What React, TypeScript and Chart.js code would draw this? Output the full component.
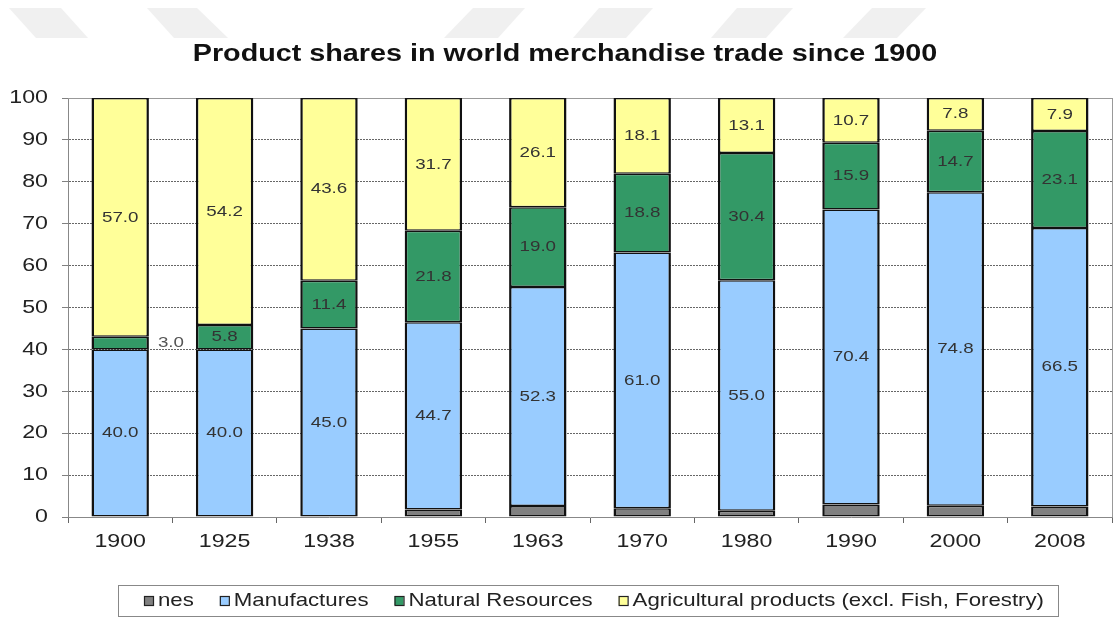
import React, { useEffect, useRef } from "react";
import { Chart, registerables } from "chart.js";
Chart.register(...registerables);

const years = ["1900", "1925", "1938", "1955", "1963", "1970", "1980", "1990", "2000", "2008"];
const nes = [null, null, null, 1.8, 2.6, 2.1, 1.5, 3.0, 2.7, 2.5];
const manufactures = [40.0, 40.0, 45.0, 44.7, 52.3, 61.0, 55.0, 70.4, 74.8, 66.5];
const naturalResources = [3.0, 5.8, 11.4, 21.8, 19.0, 18.8, 30.4, 15.9, 14.7, 23.1];
const agricultural = [57.0, 54.2, 43.6, 31.7, 26.1, 18.1, 13.1, 10.7, 7.8, 7.9];
const seriesNames = ["nes", "Manufactures", "Natural Resources", "Agricultural products (excl. Fish, Forestry)"];
const seriesColors = ["#808080", "#99CCFF", "#339966", "#FFFF99"];
const seriesData = [nes, manufactures, naturalResources, agricultural];
const labelledSeries = [1, 2, 3];
const titleText = "Product shares in world merchandise trade since 1900";

const FONT = "Arial, 'Liberation Sans', sans-serif";
const SX = 1.22;

function stretchedText(ctx: CanvasRenderingContext2D, text: string, x: number, y: number, align: "left" | "center" | "right", font: string, color: string, sx = SX) {
  ctx.save();
  ctx.font = font;
  ctx.fillStyle = color;
  ctx.textBaseline = "middle";
  const w = ctx.measureText(text).width * sx;
  let left = x;
  if (align === "center") left = x - w / 2;
  else if (align === "right") left = x - w;
  ctx.translate(left, y);
  ctx.scale(sx, 1);
  ctx.textAlign = "left";
  ctx.fillText(text, 0, 0);
  ctx.restore();
  return w;
}

const decorPlugin = {
  id: "decor",
  beforeDraw(chart: any) {
    const ctx = chart.ctx as CanvasRenderingContext2D;
    ctx.save();
    ctx.fillStyle = "#fff";
    ctx.fillRect(0, 0, chart.width, chart.height);
    const stripes = [
      [9, 61, 88, 36],
      [147, 197, 228, 174],
      [473, 525, 498, 444],
      [599, 653, 626, 573],
      [737, 793, 766, 711],
      [872, 926, 897, 843],
    ];
    ctx.fillStyle = "#f0f0f0";
    for (const s of stripes) {
      ctx.beginPath();
      ctx.moveTo(s[0], 8);
      ctx.lineTo(s[1], 8);
      ctx.lineTo(s[2], 38);
      ctx.lineTo(s[3], 38);
      ctx.closePath();
      ctx.fill();
    }
    ctx.restore();
  },
  beforeDatasetsDraw(chart: any) {
    const ctx = chart.ctx as CanvasRenderingContext2D;
    const area = chart.chartArea;
    ctx.save();
    ctx.strokeStyle = "#999";
    ctx.lineWidth = 1;
    ctx.beginPath();
    ctx.moveTo(area.left, Math.round(area.top) + 0.5);
    ctx.lineTo(area.right, Math.round(area.top) + 0.5);
    ctx.stroke();
    ctx.restore();
  },
  afterDraw(chart: any) {
    const ctx = chart.ctx as CanvasRenderingContext2D;
    const area = chart.chartArea;
    const yScale = chart.scales.y;
    const xScale = chart.scales.x;
    // right border
    ctx.save();
    ctx.strokeStyle = "#999";
    ctx.lineWidth = 1;
    ctx.beginPath();
    ctx.moveTo(Math.round(area.right) + 0.5, area.top);
    ctx.lineTo(Math.round(area.right) + 0.5, area.bottom);
    ctx.stroke();
    ctx.restore();

    // title
    stretchedText(ctx, titleText, 565, 55, "center", `bold 23px ${FONT}`, "#111", 1.25);

    // y tick labels
    yScale.ticks.forEach((t: any, i: number) => {
      const y = yScale.getPixelForTick(i);
      stretchedText(ctx, String(t.value), 48, y, "right", `19px ${FONT}`, "#222");
    });
    // x tick labels
    years.forEach((yr, i) => {
      const x = xScale.getPixelForValue(i);
      stretchedText(ctx, yr, x, 542, "center", `19px ${FONT}`, "#222");
    });

    // data labels
    labelledSeries.forEach((di) => {
      const meta = chart.getDatasetMeta(di);
      meta.data.forEach((el: any, i: number) => {
        const v = seriesData[di][i];
        if (v == null) return;
        const txt = (v as number).toFixed(1);
        const h = Math.abs(el.base - el.y);
        const cy = (el.base + el.y) / 2;
        if (h < 18) {
          stretchedText(ctx, txt, el.x + el.width / 2 + 22, cy, "center", `15px ${FONT}`, "#555", 1.25);
        } else {
          stretchedText(ctx, txt, el.x, cy, "center", `15px ${FONT}`, "#333", 1.25);
        }
      });
    });

    // legend
    ctx.save();
    ctx.strokeStyle = "#888";
    ctx.lineWidth = 1;
    ctx.strokeRect(118.5, 585.5, 940, 31);
    ctx.restore();
    let x = 144;
    const ly = 601;
    seriesNames.forEach((name, i) => {
      ctx.save();
      ctx.fillStyle = seriesColors[i];
      ctx.fillRect(x, ly - 5, 9, 9);
      ctx.strokeStyle = "#222";
      ctx.lineWidth = 1.2;
      ctx.strokeRect(x + 0.5, ly - 4.5, 9, 9);
      ctx.restore();
      const w = stretchedText(ctx, name, x + 14, ly, "left", `19px ${FONT}`, "#222", 1.17);
      x = x + 14 + w + 26;
    });
  },
};

export default function App() {
  const ref = useRef<HTMLCanvasElement>(null);
  useEffect(() => {
    document.body.style.margin = "0";
    const canvas = ref.current!;
    const chart = new Chart(canvas, {
      type: "bar",
      data: {
        labels: years,
        datasets: seriesData.map((d, i) => ({
          label: seriesNames[i],
          data: d as any,
          backgroundColor: seriesColors[i],
          borderColor: "#111",
          borderWidth: { top: 1.5, bottom: 1.5, left: 2.5, right: 2.5 },
          borderSkipped: false,
          barPercentage: 0.55,
          categoryPercentage: 1,
        })),
      },
      options: {
        responsive: false,
        animation: false,
        devicePixelRatio: 1,
        layout: { padding: { left: 8, right: 7, top: 98, bottom: 0 } },
        plugins: {
          legend: { display: false },
          title: { display: false },
          tooltip: { enabled: false },
        },
        scales: {
          x: {
            stacked: true,
            offset: true,
            grid: {
              offset: true,
              drawOnChartArea: false,
              drawTicks: true,
              tickLength: 6,
              color: "#666",
            },
            border: { display: true, color: "#888", width: 1 },
            ticks: { display: false },
            afterFit: (s: any) => {
              s.height = 101;
            },
          },
          y: {
            stacked: true,
            min: 0,
            max: 100,
            grid: {
              color: (c: any) => (c.tick && c.tick.value === 100 ? "rgba(0,0,0,0)" : "#666"),
              tickColor: "#808080",
              tickLength: 6,
              tickBorderDash: [],
            },
            border: { display: true, color: "#888", width: 1, dash: [2, 1] },
            ticks: { display: false, stepSize: 10 },
            afterFit: (s: any) => {
              s.width = 60;
            },
          },
        },
      },
      plugins: [decorPlugin],
    });
    return () => chart.destroy();
  }, []);
  return (
    <div style={{ width: 1119, height: 618 }}>
      <canvas ref={ref} width={1119} height={618} style={{ display: "block" }} />
    </div>
  );
}
